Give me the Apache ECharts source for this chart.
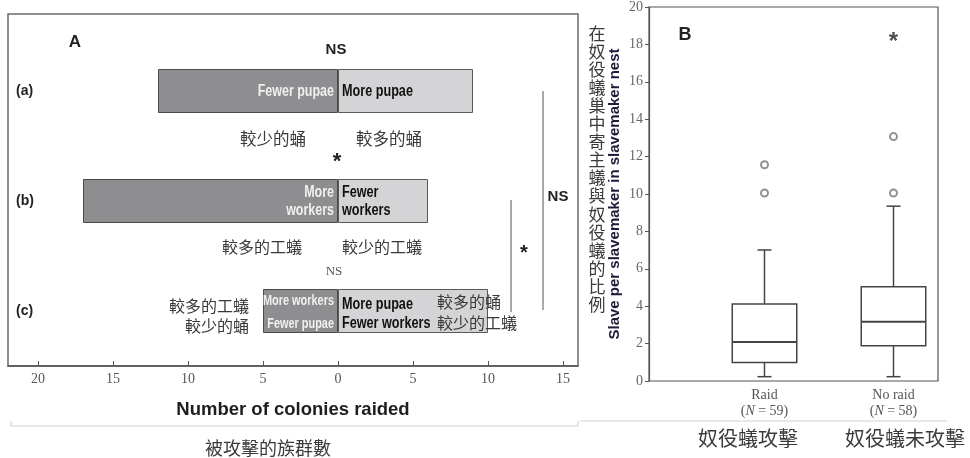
<!DOCTYPE html>
<html>
<head>
<meta charset="utf-8">
<script src="https://cdn.jsdelivr.net/npm/echarts@6/dist/echarts.min.js"></script>
<style>html,body{margin:0;padding:0;background:#fff}#c{width:970px;height:458px}</style>
</head>
<body>
<div id="c"></div>
<script>
// ---- Panel A data ----
const rowLabels = ['(a)', '(b)', '(c)'];
const leftValues = [12, 17, 5];      // colonies raided (left side)
const rightValues = [9, 6, 10];      // colonies raided (right side)
const leftText = ['Fewer pupae', 'More\nworkers', 'More workers\nFewer pupae'];
const rightText = ['More pupae', 'Fewer\nworkers', 'More pupae\nFewer workers'];
const xTickValues = [-20, -15, -10, -5, 0, 5, 10, 15];

// ---- Panel B data ----
const groups = ['Raid', 'No raid'];
const groupN = [59, 58];
// [lower whisker, Q1, median, Q3, upper whisker]
const boxStats = [
  [0.23, 0.98, 2.08, 4.09, 6.97],
  [0.23, 1.87, 3.15, 5.01, 9.3]
];
const outliers = [[0, 10.0], [0, 11.5], [1, 10.0], [1, 13.0]];
const starPoint = [[1, 18.25]];

const SERIF = "'Liberation Serif','DejaVu Serif',serif";
const SANS = "'Liberation Sans',Arial,sans-serif";
const CJK = "'Noto Sans CJK TC','Noto Sans CJK SC',sans-serif";

const chart = echarts.init(document.getElementById('c'), null, {renderer: 'canvas'});

function cjk(x, y, t, size, align) {
  return {type: 'text', x: x, y: y, z: 100, silent: true,
    style: {text: t, font: (size || 16) + 'px ' + CJK, fill: '#3a3a3a', align: align || 'left', verticalAlign: 'middle'}};
}
function txt(x, y, t, font, fill, align) {
  return {type: 'text', x: x, y: y, z: 100, silent: true,
    style: {text: t, font: font, fill: fill || '#222', align: align || 'center', verticalAlign: 'middle'}};
}
function line(x1, y1, x2, y2, c, w) {
  return {type: 'line', z: 100, silent: true, shape: {x1: x1, y1: y1, x2: x2, y2: y2}, style: {stroke: c || '#555', lineWidth: w || 1}};
}

const option = {
  animation: false,
  backgroundColor: '#fff',
  grid: [
    {left: 8, right: 392, top: 36, bottom: 92},
    {left: 649, right: 32, top: 5, bottom: 77, show: true, borderColor: '#555', borderWidth: 1.2, backgroundColor: 'transparent'},
    {left: 700, right: 12, top: 5, bottom: 77}
  ],
  xAxis: [
    {
      gridIndex: 0, type: 'value', min: -22, max: 16,
      splitLine: {show: false},
      axisLine: {show: true, lineStyle: {color: '#555', width: 1.5}},
      axisTick: {show: true, inside: true, length: 5, customValues: xTickValues, lineStyle: {color: '#555'}},
      axisLabel: {customValues: xTickValues, formatter: v => String(Math.abs(v)), fontFamily: SERIF, fontSize: 14, color: '#555', margin: 6},
      name: 'Number of colonies raided', nameLocation: 'middle', nameGap: 34,
      nameTextStyle: {fontFamily: SANS, fontWeight: 'bold', fontSize: 18.5, color: '#1e1e1e'}
    },
    {gridIndex: 1, type: 'value', show: false, min: 0, max: 1},
    {
      gridIndex: 2, type: 'category', data: groups,
      axisLine: {show: false}, axisTick: {show: false},
      axisLabel: {
        margin: 6, color: '#555', fontFamily: SERIF, fontSize: 14, lineHeight: 16,
        formatter: (v, i) => v + '\n(' + '{i|N}' + ' = ' + groupN[i] + ')',
        rich: {i: {fontStyle: 'italic', fontFamily: SERIF, fontSize: 14, color: '#555'}}
      }
    }
  ],
  yAxis: [
    {
      gridIndex: 0, type: 'category', data: rowLabels, inverse: true,
      axisLine: {show: false}, axisTick: {show: false},
      axisLabel: {inside: true, margin: 8, fontFamily: SANS, fontWeight: 'bold', fontSize: 14, color: '#222'}
    },
    {
      gridIndex: 1, type: 'value', min: 0, max: 20, interval: 2,
      splitLine: {show: false},
      axisLine: {show: true, lineStyle: {color: '#555', width: 1.2}},
      axisTick: {show: true, length: 4, lineStyle: {color: '#555'}},
      axisLabel: {fontFamily: SERIF, fontSize: 14, color: '#666', margin: 6},
      name: 'Slave per slavemaker in slavemaker nest', nameLocation: 'middle', nameGap: 27, nameRotate: 90,
      nameTextStyle: {fontFamily: SANS, fontWeight: 'bold', fontSize: 15, color: '#1c1c3a'}
    },
    {gridIndex: 2, type: 'value', min: 0, max: 20, show: false}
  ],
  series: [
    {
      type: 'bar', name: 'left', stack: 'a', xAxisIndex: 0, yAxisIndex: 0, barWidth: 44,
      data: leftValues.map(v => -v),
      itemStyle: {color: '#8e8e91', borderColor: '#4a4a4a', borderWidth: 1}
    },
    {
      type: 'bar', name: 'right', stack: 'a', xAxisIndex: 0, yAxisIndex: 0, barWidth: 44,
      data: rightValues,
      itemStyle: {color: '#d4d4d7', borderColor: '#5a5a5a', borderWidth: 1}
    },
    {
      // condensed bold labels inside the bars, anchored at x = 0 of each row
      type: 'custom', xAxisIndex: 0, yAxisIndex: 0, z: 5,
      data: rowLabels.map((r, i) => [0, i]),
      renderItem: function (params, api) {
        const i = params.dataIndex;
        const p = api.coord([0, api.value(1)]);
        const small = i === 2;
        return {
          type: 'group',
          children: [
            {type: 'text', x: p[0] - 4, y: p[1] + (small ? 2 : 1), scaleX: 0.78,
              style: {text: leftText[i], font: 'bold ' + (small ? 14 : 16) + 'px ' + SANS, lineHeight: small ? 23 : 18,
                fill: '#f0f0f0', align: 'right', verticalAlign: 'middle'}},
            {type: 'text', x: p[0] + 4, y: p[1] + (small ? 3 : 1), scaleX: 0.79,
              style: {text: rightText[i], font: 'bold 16px ' + SANS, lineHeight: small ? 19 : 18,
                fill: '#111', align: 'left', verticalAlign: 'middle'}}
          ]
        };
      }
    },
    {
      type: 'custom', xAxisIndex: 2, yAxisIndex: 2,
      data: boxStats.map((s, i) => [i].concat(s)),
      encode: {x: 0, y: [1, 2, 3, 4, 5]},
      renderItem: function (params, api) {
        const x = api.value(0);
        const pLo = api.coord([x, api.value(1)]);
        const pQ1 = api.coord([x, api.value(2)]);
        const pMed = api.coord([x, api.value(3)]);
        const pQ3 = api.coord([x, api.value(4)]);
        const pHi = api.coord([x, api.value(5)]);
        const bw = api.size([1, 0])[0] * 0.5;
        const cap = 7;
        const st = {stroke: '#444', lineWidth: 1.5, fill: 'none'};
        const cx = pMed[0];
        return {
          type: 'group',
          children: [
            {type: 'line', shape: {x1: cx, y1: pLo[1], x2: cx, y2: pQ1[1]}, style: st},
            {type: 'line', shape: {x1: cx, y1: pQ3[1], x2: cx, y2: pHi[1]}, style: st},
            {type: 'line', shape: {x1: cx - cap, y1: pLo[1], x2: cx + cap, y2: pLo[1]}, style: st},
            {type: 'line', shape: {x1: cx - cap, y1: pHi[1], x2: cx + cap, y2: pHi[1]}, style: st},
            {type: 'rect', shape: {x: cx - bw / 2, y: pQ3[1], width: bw, height: pQ1[1] - pQ3[1]}, style: {stroke: '#444', lineWidth: 1.5, fill: '#fff'}},
            {type: 'line', shape: {x1: cx - bw / 2, y1: pMed[1], x2: cx + bw / 2, y2: pMed[1]}, style: {stroke: '#444', lineWidth: 2}}
          ]
        };
      }
    },
    {
      type: 'scatter', xAxisIndex: 2, yAxisIndex: 2, z: 5,
      data: outliers, symbol: 'emptyCircle', symbolSize: 7,
      itemStyle: {color: '#777', borderColor: '#777', borderWidth: 1.3}
    },
    {
      type: 'scatter', xAxisIndex: 2, yAxisIndex: 2,
      data: starPoint, symbolSize: 0.1,
      label: {show: true, formatter: '*', position: 'inside', offset: [0, 4], fontFamily: SANS, fontWeight: 'bold', fontSize: 24, color: '#222'}
    }
  ],
  graphic: [
    // panel A frame
    {type: 'rect', silent: true, shape: {x: 8, y: 14, width: 570, height: 352}, style: {stroke: '#6a6a6a', lineWidth: 1.5, fill: 'none'}},
    txt(75, 42, 'A', 'bold 17px ' + SANS, '#222'),
    txt(336, 50, 'NS', 'bold 15px ' + SANS, '#222'),
    cjk(240, 139, '較少的蛹', 16.5),
    cjk(356, 139, '較多的蛹', 16.5),
    txt(337, 162, '*', 'bold 22px ' + SANS, '#222'),
    cjk(222, 247, '較多的工蟻', 16),
    cjk(342, 247, '較少的工蟻', 16),
    txt(334, 272, 'NS', '13px ' + SERIF, '#555'),
    cjk(249, 306, '較多的工蟻', 16, 'right'),
    cjk(249, 326, '較少的蛹', 16, 'right'),
    cjk(437, 302, '較多的蛹', 16),
    cjk(437, 323, '較少的工蟻', 16),
    line(511, 200, 511, 312, '#555', 1),
    line(543, 91, 543, 310, '#555', 1),
    txt(524, 253, '*', 'bold 20px ' + SANS, '#222'),
    txt(558, 197, 'NS', 'bold 15px ' + SANS, '#222'),
    {type: 'polyline', silent: true, shape: {points: [[11, 421], [11, 426], [578, 426], [578, 421]]}, style: {stroke: '#cfcfcf', lineWidth: 1, fill: 'none'}},
    cjk(268, 448, '被攻擊的族群數', 18, 'center'),
    // panel B
    txt(685, 35, 'B', 'bold 18px ' + SANS, '#222'),
    {type: 'text', x: 597, y: 24, silent: true,
      style: {text: '在奴役蟻巢中寄主蟻與奴役蟻的比例'.split('').join('\n'), font: '17px ' + CJK, lineHeight: 18.1, fill: '#3a3a3a', align: 'center', verticalAlign: 'top'}},
    line(580, 421, 947, 421, '#d0d0d0', 1),
    cjk(748, 438, '奴役蟻攻擊', 20, 'center'),
    cjk(905, 438, '奴役蟻未攻擊', 20, 'center')
  ]
};
chart.setOption(option);
</script>
</body>
</html>
